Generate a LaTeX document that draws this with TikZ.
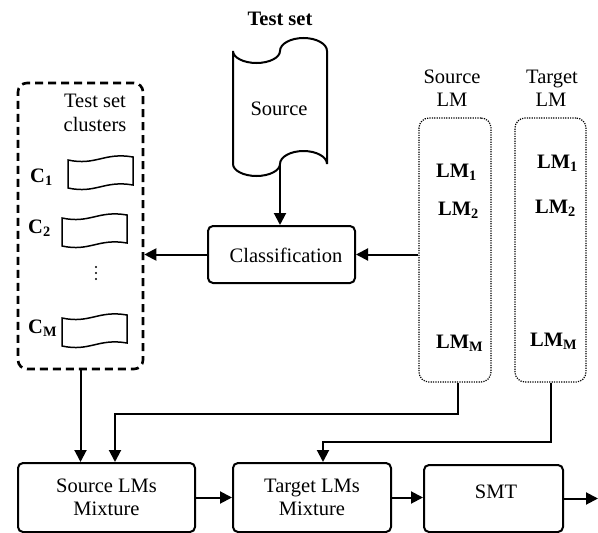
\documentclass[tikz,border=0pt]{standalone}
\usepackage{fontspec}
\setmainfont{Liberation Serif}
\usetikzlibrary{arrows.meta,calc}
\begin{document}
\begin{tikzpicture}[x=1pt,y=-1pt,
  font=\fontsize{20.5}{23.5}\selectfont,
  lw/.style={line width=2pt},
  boxnode/.style={draw,lw,rounded corners=5pt,inner sep=0pt,align=center},
  arr/.style={lw,-{Triangle[length=12pt,width=12pt]}},
  txt/.style={inner sep=0pt,anchor=base},
  lmtxt/.style={inner sep=0pt,anchor=base west,font=\fontsize{20.5}{23.5}\selectfont\bfseries},
  dotbox/.style={draw,line width=1.2pt,dash pattern=on 1.2pt off 1.2pt,rounded corners=10pt,inner sep=0pt},
  wavedoc/.pic={\draw[line width=1.5pt] (0,0) .. controls (28,6) and (36,-8) .. (65,-3) -- (65,25) .. controls (36,20) and (28,34) .. (0,28) -- cycle;}
]
\useasboundingbox (0,0) rectangle (598,533);

% Test set source tape
\node[txt,font=\fontsize{20.5}{23.5}\selectfont\bfseries] (title) at (280,25) {Test set};
\draw[lw] (233,51) .. controls (233,57.6) and (243.6,63) .. (256.5,63)
  .. controls (269.4,63) and (280,57.6) .. (280,51)
  .. controls (280,43.8) and (290.6,38) .. (303.5,38)
  .. controls (316.4,38) and (327,43.8) .. (327,51)
  -- (327,164)
  .. controls (327,156.8) and (316.4,151) .. (303.5,151)
  .. controls (290.6,151) and (280,156.8) .. (280,164)
  .. controls (280,170.6) and (269.4,176) .. (256.5,176)
  .. controls (243.6,176) and (233,170.6) .. (233,164) -- cycle;
\node[txt] (srctxt) at (279,115) {Source};
\coordinate (srcbot) at (280,164);

% Classification
\node[boxnode,minimum width=147pt,minimum height=57pt] (cls) at (281.5,254.5) {};
\node[txt] (clstxt) at (286,262) {Classification};

% Test set clusters
\node[draw,line width=2.6pt,dash pattern=on 8pt off 5pt,rounded corners=9pt,minimum width=125pt,minimum height=286pt,inner sep=0pt] (clu) at (80.5,226) {};
\node[txt] (clut1) at (95,107) {Test set};
\node[txt] (clut2) at (95,131) {clusters};
\node[lmtxt] (c1) at (30,182) {C\textsubscript{1}};
\node[lmtxt] (c2) at (28,233) {C\textsubscript{2}};
\node[lmtxt] (cm) at (28,333) {C\textsubscript{M}};
\pic at (68,160) {wavedoc};
\pic at (62,218) {wavedoc};
\pic at (62,318) {wavedoc};
\foreach \yy in {267,273,279} \fill (96,\yy) circle[radius=1.2pt];

% LM columns
\node[txt] (slmt1) at (452,83) {Source};
\node[txt] (slmt2) at (452,106) {LM};
\node[txt] (tlmt1) at (552,83) {Target};
\node[txt] (tlmt2) at (551,106) {LM};
\node[dotbox,minimum width=72pt,minimum height=264pt] (slm) at (455,250) {};
\node[dotbox,minimum width=71pt,minimum height=264pt] (tlm) at (550.5,250) {};
\node[lmtxt] (s1) at (436,177) {LM\textsubscript{1}};
\node[lmtxt] (s2) at (438,215) {LM\textsubscript{2}};
\node[lmtxt] (sm) at (436,348) {LM\textsubscript{M}};
\node[lmtxt] (t1) at (537,168) {LM\textsubscript{1}};
\node[lmtxt] (t2) at (535,213) {LM\textsubscript{2}};
\node[lmtxt] (tm) at (530,346) {LM\textsubscript{M}};

% bottom boxes
\node[boxnode,minimum width=177pt,minimum height=69pt] (smix) at (106.5,497.5) {Source LMs\\Mixture};
\node[boxnode,minimum width=158pt,minimum height=69pt] (tmix) at (312,497.5) {Target LMs\\Mixture};
\node[boxnode,minimum width=139pt,minimum height=67pt] (smt) at (493.5,498.5) {};
\node[txt] (smttxt) at (496,498) {SMT};
\coordinate (out) at (598,498.5);

% connectors
\draw[arr] (srcbot) -- (srcbot |- cls.north);
\draw[arr] (slm.west |- cls.east) -- (cls.east);
\draw[arr] (cls.west) -- (cls.west -| clu.east);
\draw[arr] (clu.south) -- (clu.south |- smix.north);
\draw[arr] ($(slm.south)+(3,0)$) -- ++(0,31) -| ($(smix.north)+(8.5,0)$);
\draw[arr] (tlm.south) -- ++(0,59) -| ($(tmix.north)+(11,0)$);
\draw[arr] (smix.east) -- (tmix.west);
\draw[arr] (tmix.east) -- (tmix.east -| smt.west);
\draw[arr] (smt.east) -- (out);
\end{tikzpicture}
\end{document}
